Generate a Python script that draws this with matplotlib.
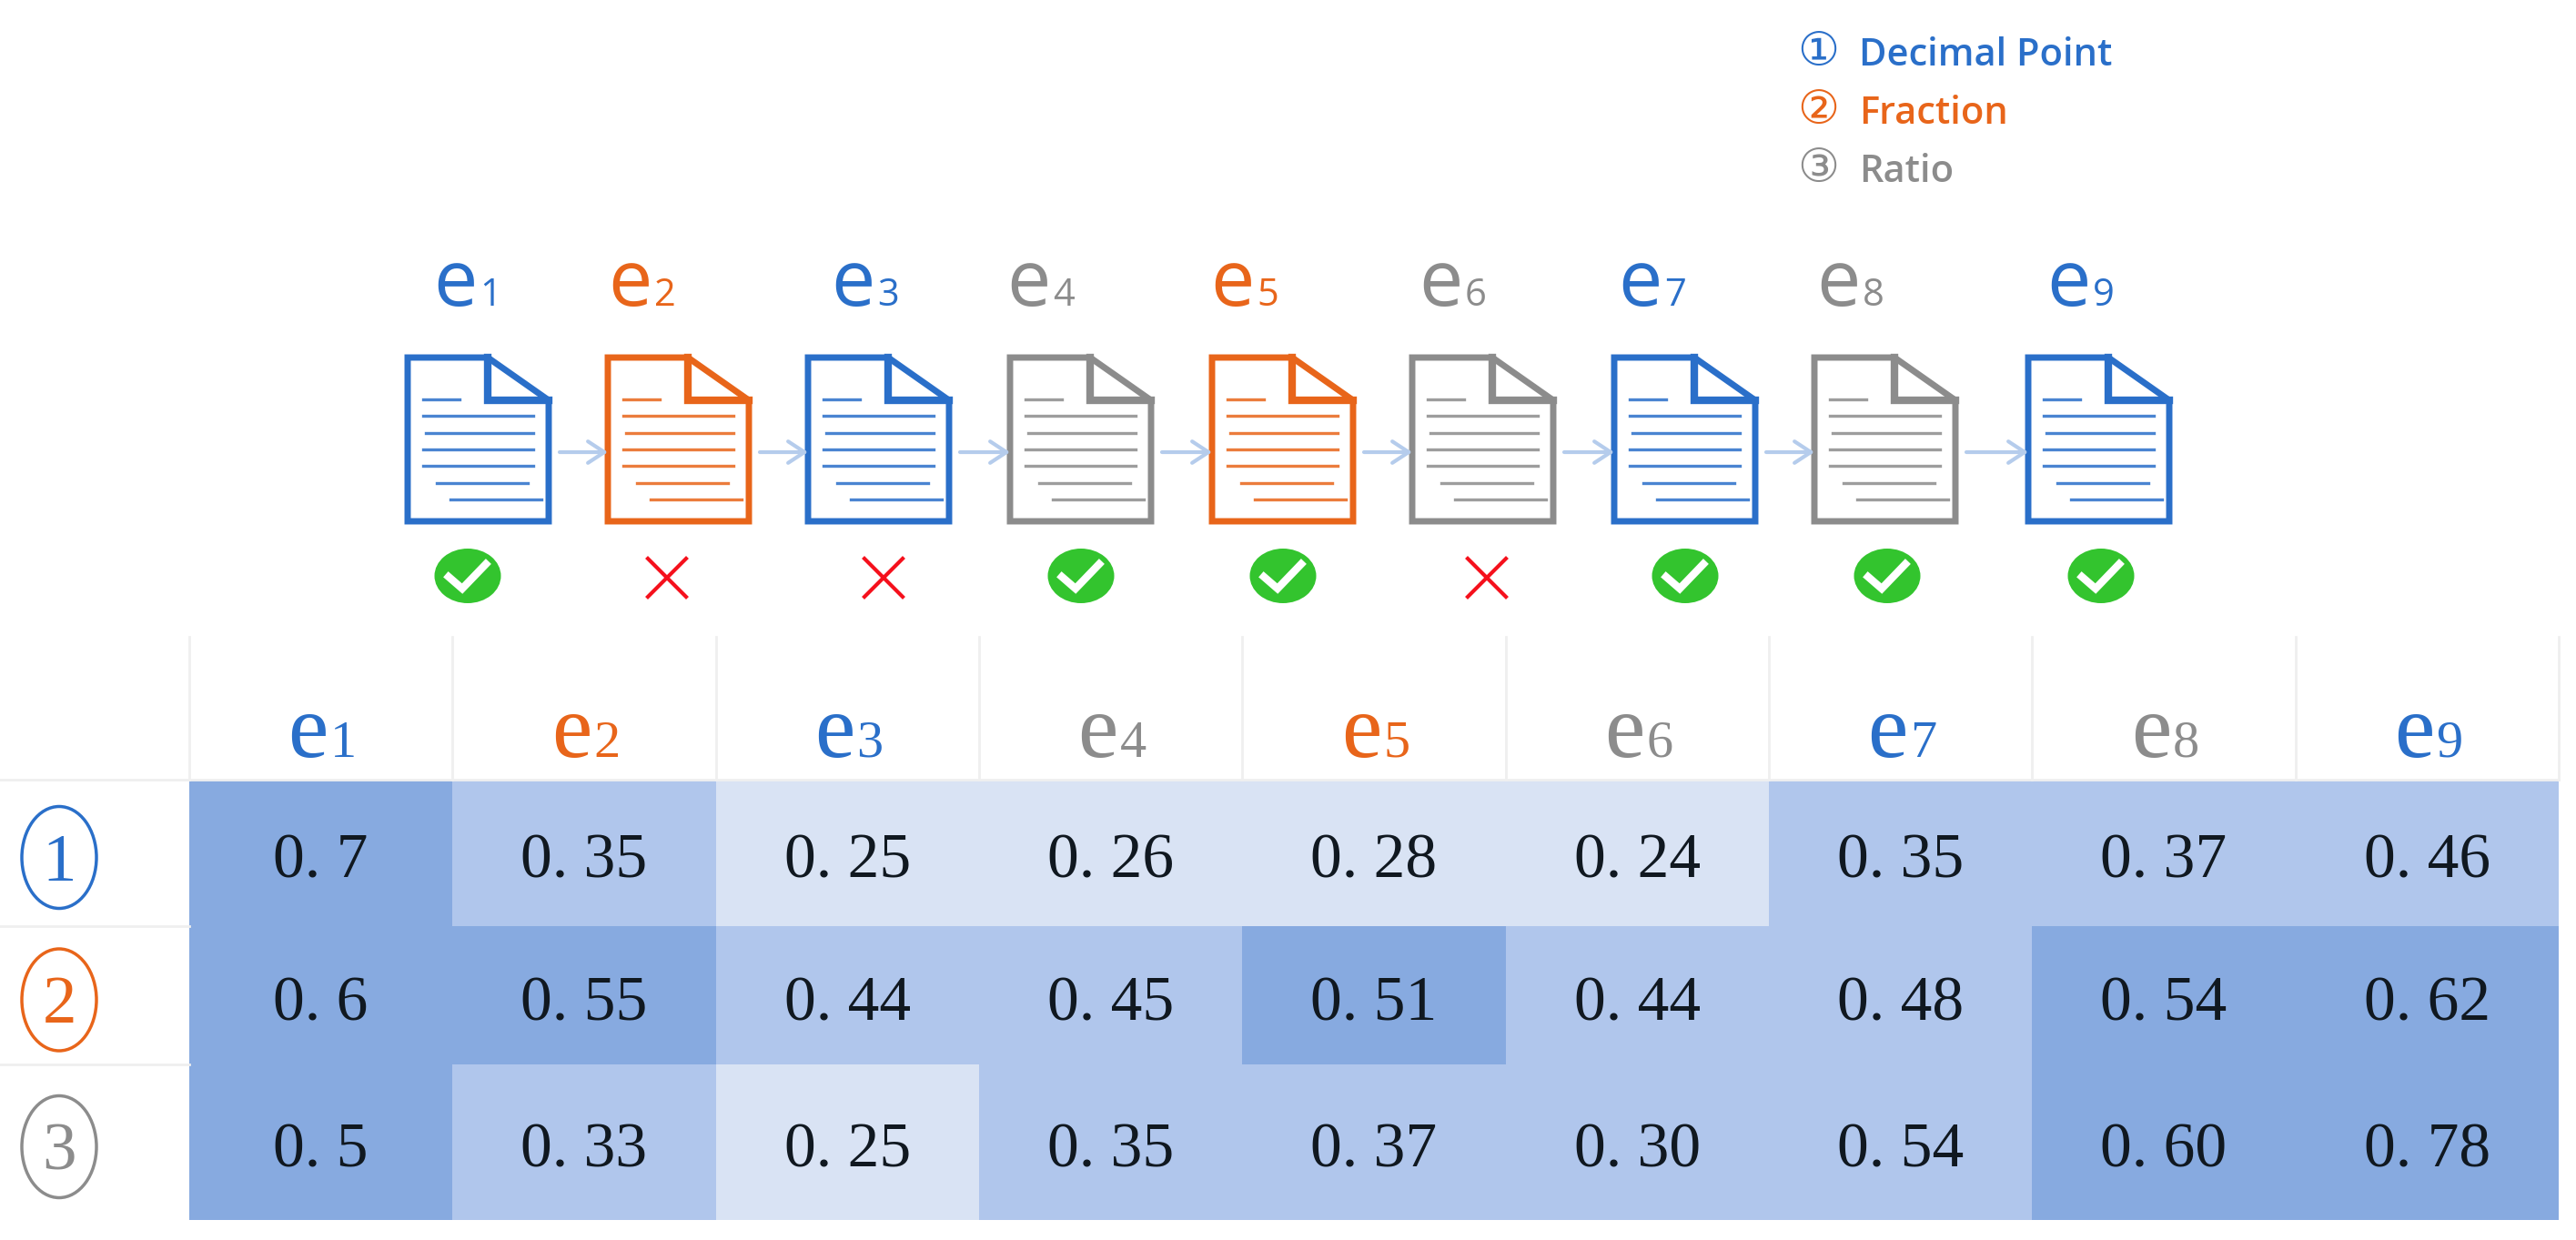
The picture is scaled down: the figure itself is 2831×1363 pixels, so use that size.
import numpy as np
import matplotlib
matplotlib.use("Agg")
import matplotlib.pyplot as plt
from matplotlib.colors import ListedColormap
from matplotlib.patches import Ellipse, Polygon

# values
names = ["1", "2", "3", "4", "5", "6", "7", "8", "9"]
types = [0, 1, 0, 2, 1, 2, 0, 2, 0]
correct = [True, False, False, True, True, False, True, True, True]
row_labels = ["1", "2", "3"]
legend_names = ["Decimal Point", "Fraction", "Ratio"]
legend_marks = ["\u2460", "\u2461", "\u2462"]
table_text = [
    ["0. 7", "0. 35", "0. 25", "0. 26", "0. 28", "0. 24", "0. 35", "0. 37", "0. 46"],
    ["0. 6", "0. 55", "0. 44", "0. 45", "0. 51", "0. 44", "0. 48", "0. 54", "0. 62"],
    ["0. 5", "0. 33", "0. 25", "0. 35", "0. 37", "0. 30", "0. 54", "0. 60", "0. 78"],
]
shade = [
    [2, 1, 0, 0, 0, 0, 1, 1, 1],
    [2, 2, 1, 1, 2, 1, 1, 2, 2],
    [2, 1, 0, 1, 1, 1, 1, 2, 2],
]

BLUE = "#2A6FC9"
ORANGE = "#E8651A"
GRAY = "#8C8C8C"
colors = [BLUE, ORANGE, GRAY]
shades = ListedColormap(["#D9E3F4", "#B0C6EC", "#87AAE0"])

W, H = 2831, 1363
fig = plt.figure(figsize=(W / 100, H / 100), dpi=100)
ax = fig.add_axes([0, 0, 1, 1])
ax.set_xlim(0, W)
ax.set_ylim(H, 0)
ax.axis("off")

# legend
for y, mark, name, c in zip([72, 136, 200], legend_marks, legend_names, colors):
    ax.text(1998, y, mark, color=c, fontsize=37, family="DejaVu Sans", ha="center", va="baseline")
    ax.text(2043, y, name, color=c, fontsize=30, family="Open Sans", weight="semibold", va="baseline")

# documents
doc_left = [448, 668, 888, 1110, 1332, 1552, 1774, 1994, 2229]
label_x = [525, 717, 962, 1155, 1379, 1608, 1827, 2045, 2298]
check_x = [514, 1188, 1410, 1852, 2074, 2309]
cross_x = [733, 971, 1634]
doc_w, doc_h, doc_top = 155, 180, 393
text_lines = [(17, 57), (17, 138), (20, 138), (17, 138), (17, 138), (32, 132), (47, 147)]


def draw_doc(x, c):
    outline = [(x, doc_top), (x + 88, doc_top), (x + doc_w, doc_top + 47),
               (x + doc_w, doc_top + doc_h), (x, doc_top + doc_h)]
    ax.add_patch(Polygon(outline, closed=True, fill=False, ec=c, lw=5, joinstyle="miter"))
    ax.plot([x + 88, x + 88, x + doc_w], [doc_top, doc_top + 47, doc_top + 47], color=c, lw=6,
            solid_joinstyle="miter")
    for k, (a, b) in enumerate(text_lines):
        yy = doc_top + 46 + k * 18.3
        ax.plot([x + a, x + b], [yy, yy], color=c, lw=2.4, alpha=0.85)


for i, x in enumerate(doc_left):
    c = colors[types[i]]
    draw_doc(x, c)
    ax.text(label_x[i], 336, "e", color=c, fontsize=62, family="Open Sans", ha="right", va="baseline")
    ax.text(label_x[i] + 2, 336, names[i], color=c, fontsize=30, family="Open Sans", ha="left", va="baseline")
    if i < len(doc_left) - 1:
        ax.annotate("", xy=(doc_left[i + 1], 497), xytext=(x + doc_w + 12, 497),
                    arrowprops=dict(arrowstyle="->,head_length=1.3,head_width=0.85", color="#B5CCEC", lw=3,
                                    shrinkA=0, shrinkB=0))

# right / wrong marks
for x in check_x:
    ax.add_patch(Ellipse((x, 633), 73, 60, color="#33C42E", lw=0))
    ax.plot([x - 21, x - 6, x + 20], [634, 647, 620], color="white", lw=6, solid_joinstyle="miter")
for x in cross_x:
    ax.plot([x - 21, x + 21], [614, 656], color="#F5101C", lw=3)
    ax.plot([x - 21, x + 21], [656, 614], color="#F5101C", lw=3)

# table
col_edges = np.linspace(208, 2812, 10)
row_edges = np.array([857, 1018, 1170, 1341])
ax.pcolormesh(col_edges, row_edges, np.array(shade), cmap=shades, vmin=0, vmax=2)
for x in col_edges:
    ax.plot([x, x], [700, 857], color="#EFEFEF", lw=2)
for y in row_edges[:3]:
    ax.plot([0, 208], [y, y], color="#EFEFEF", lw=2)
ax.plot([208, 2812], [857, 857], color="#EFEFEF", lw=2)

for j in range(9):
    cx = (col_edges[j] + col_edges[j + 1]) / 2
    c = colors[types[j]]
    ax.text(cx + 8, 832, "e", color=c, fontsize=72, family="Liberation Serif", ha="right", va="baseline")
    ax.text(cx + 10, 832, names[j], color=c, fontsize=42, family="Liberation Serif", ha="left", va="baseline")

row_mid = (row_edges[:-1] + row_edges[1:]) / 2
for i in range(3):
    for j in range(9):
        cx = (col_edges[j] + col_edges[j + 1]) / 2
        ax.text(cx, row_mid[i] + 27, table_text[i][j], color="#101820", fontsize=50,
                family="Liberation Serif", ha="center", va="baseline")
    ax.add_patch(Ellipse((65, row_mid[i] + 5), 82, 112, fill=False, ec=colors[i], lw=2.5))
    ax.text(65, row_mid[i] + 30, row_labels[i], color=colors[i], fontsize=54,
            family="Liberation Serif", ha="center", va="baseline")

fig.savefig("out.png", dpi=100)
